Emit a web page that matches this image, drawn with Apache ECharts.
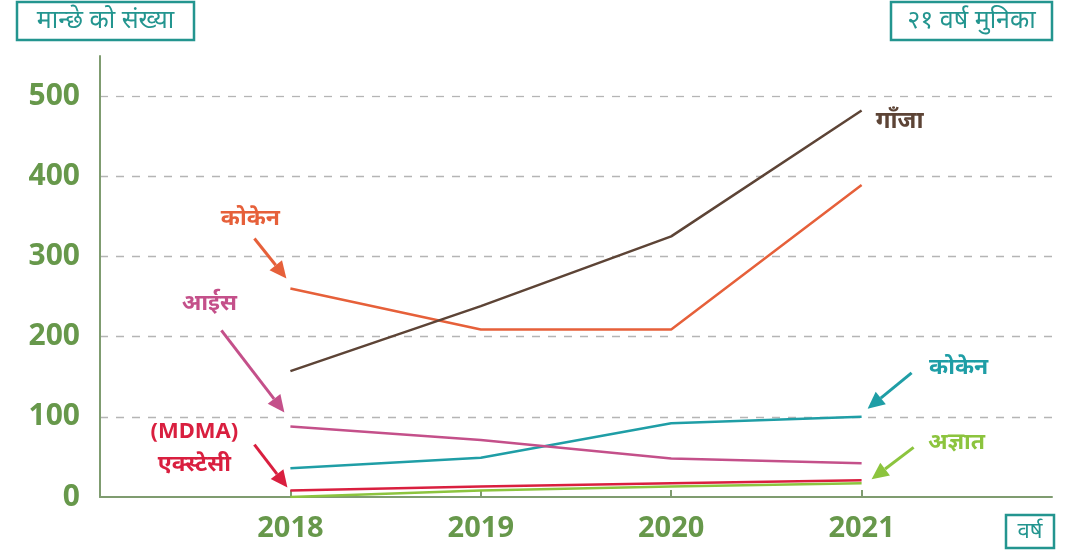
<!DOCTYPE html>
<html><head><meta charset="utf-8">
<script src="https://cdn.jsdelivr.net/npm/echarts@6/dist/echarts.min.js"></script>
<style>html,body{margin:0;padding:0;background:#fff}#c{width:1073px;height:551px}</style>
</head><body><div id="c"></div>
<script>
// ---- data ----
const years = ['2018', '2019', '2020', '2021'];
const yTicks = [0, 100, 200, 300, 400, 500];
const ganja = [157, 238, 325, 482];
const cocaineA = [260, 209, 209, 389];
const ice = [88, 71, 48, 42];
const cocaineB = [36, 49, 92, 100];
const mdma = [8, 13, 17, 21];
const unknown = [0, 8, 13, 17];
const names = {
  ganja: 'गाँजा', cocaineA: 'कोकेन', ice: 'आईस', mdma1: '(MDMA)', mdma2: 'एक्स्टेसी',
  cocaineB: 'कोकेन', unknown: 'अज्ञात', yTitle: 'मान्छे को संख्या', note: '२१ वर्ष मुनिका', xTitle: 'वर्ष'
};

const FONT = '"Noto Sans", "Noto Sans Devanagari", Lato, sans-serif';
const C = {
  ganja: '#5d4436', cocaineA: '#e6603a', ice: '#c4508a', cocaineB: '#1f9ea6',
  mdma: '#d91f3f', unknown: '#8cc43e', axis: '#7f9c70', tick: '#67984b', teal: '#23958f'
};
const pad = v => ['-'].concat(v).concat(['-']);

const chart = echarts.init(document.getElementById('c'), null, {renderer: 'canvas'});
function mk(name, data, color, z) {
  return {name, type: 'line', data: pad(data), symbol: 'none', z: z || 2,
    lineStyle: {color, width: 2.5}, itemStyle: {color}};
}
chart.setOption({
  animation: false,
  grid: {left: 100, right: 21, top: 56, bottom: 54, containLabel: false},
  xAxis: {
    type: 'category', boundaryGap: false, data: [''].concat(years).concat(['']),
    axisLine: {lineStyle: {color: C.axis, width: 2}},
    axisTick: {show: true, inside: true, length: 7, lineStyle: {color: C.axis, width: 2},
      interval: (i) => i >= 1 && i <= years.length},
    axisLabel: {color: C.tick, fontSize: 29, fontWeight: 'bold', fontFamily: FONT, margin: 17,
      interval: 0},
    splitLine: {show: false}
  },
  yAxis: {
    type: 'value', min: yTicks[0], max: 550, interval: 100,
    axisLine: {show: true, lineStyle: {color: C.axis, width: 2}},
    axisTick: {show: false},
    axisLabel: {color: C.tick, fontSize: 30, fontWeight: 'bold', fontFamily: FONT, margin: 20,
      showMaxLabel: false, formatter: v => yTicks.includes(v) ? String(v) : ''},
    splitLine: {show: true, showMinLine: false, showMaxLine: false,
      lineStyle: {color: '#b5b5b5', type: [8, 8], width: 1.3}}
  },
  series: [
    mk('unknown', unknown, C.unknown, 2),
    mk('mdma', mdma, C.mdma, 3),
    mk('cocaineB', cocaineB, C.cocaineB, 3),
    mk('ice', ice, C.ice, 3),
    mk('cocaineA', cocaineA, C.cocaineA, 3),
    mk('ganja', ganja, C.ganja, 4)
  ]
});

function px(idx, v) { return chart.convertToPixel({xAxisIndex: 0, yAxisIndex: 0}, [idx + 1, v]); }
function arrow(p, s, e, color) {
  const x1 = p[0] + s[0], y1 = p[1] + s[1], x2 = p[0] + e[0], y2 = p[1] + e[1];
  const ang = Math.atan2(y2 - y1, x2 - x1), L = 17, W = 8;
  const bx = x2 - L * Math.cos(ang), by = y2 - L * Math.sin(ang);
  const nx = -Math.sin(ang) * W, ny = Math.cos(ang) * W;
  return [
    {type: 'line', shape: {x1, y1, x2: bx, y2: by}, style: {stroke: color, lineWidth: 3}, z: 10},
    {type: 'polygon', shape: {points: [[x2, y2], [bx + nx, by + ny], [bx - nx, by - ny]]},
      style: {fill: color}, z: 10}
  ];
}
function label(p, off, text, color, size) {
  return {type: 'text', x: p[0] + off[0], y: p[1] + off[1], z: 10,
    style: {text, fill: color, font: 'bold ' + (size || 23) + 'px ' + FONT, align: 'center', verticalAlign: 'middle'}};
}
function box(x, y, w, h, text, size) {
  return {type: 'group', x, y, children: [
    {type: 'rect', shape: {x: 0, y: 0, width: w, height: h}, style: {fill: '#fff', stroke: C.teal, lineWidth: 2.5}},
    {type: 'text', x: w / 2, y: h / 2, style: {text, fill: C.teal, font: size + 'px ' + FONT, align: 'center', verticalAlign: 'middle'}}
  ]};
}

const last = years.length - 1;
const pA = px(0, cocaineA[0]), pI = px(0, ice[0]), pM = px(0, mdma[0]);
const pB = px(last, cocaineB[last]), pU = px(last, unknown[last]), pG = px(last, ganja[last]);
let g = [];
g.push(label(pG, [38, 11], names.ganja, C.ganja, 24));
g.push(label(pA, [-40, -70], names.cocaineA, C.cocaineA));
g = g.concat(arrow(pA, [-36, -50], [-4, -10], C.cocaineA));
g.push(label(pI, [-81, -123], names.ice, C.ice));
g = g.concat(arrow(pI, [-69, -96], [-6, -14], C.ice));
g.push(label(pM, [-96, -59], names.mdma1, C.mdma, 22));
g.push(label(pM, [-96, -26], names.mdma2, C.mdma));
g = g.concat(arrow(pM, [-36, -46], [-3, -3], C.mdma));
g.push(label(pB, [97, -49], names.cocaineB, C.cocaineB));
g = g.concat(arrow(pB, [50, -44], [6, -8], C.cocaineB));
g.push(label(pU, [95, -41], names.unknown, C.unknown));
g = g.concat(arrow(pU, [52, -36], [10, -4], C.unknown));
g.push(box(17, 2, 177, 38, names.yTitle, 25));
g.push(box(891, 2, 161, 38, names.note, 25));
g.push(box(1006, 515, 48, 33, names.xTitle, 22));
chart.setOption({graphic: g});
</script></body></html>
